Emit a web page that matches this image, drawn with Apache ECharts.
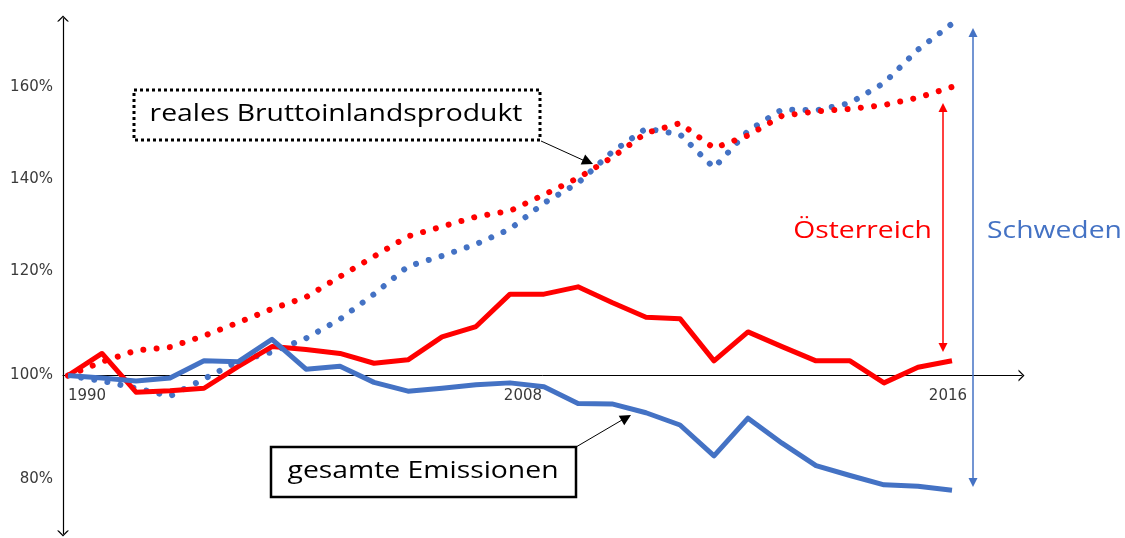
<!DOCTYPE html>
<html>
<head>
<meta charset="utf-8">
<title>Emissionen und BIP</title>
<script src="https://cdn.jsdelivr.net/npm/echarts@6/dist/echarts.min.js"></script>
<style>
    html, body { margin: 0; padding: 0; background: #fff; }
    #chart { width: 1125px; height: 538px; }
</style>
</head>
<body>
<div id="chart"></div>
<script>
// Jahre
var years = [1990, 1991, 1992, 1993, 1994, 1995, 1996, 1997, 1998, 1999, 2000, 2001, 2002, 2003,
    2004, 2005, 2006, 2007, 2008, 2009, 2010, 2011, 2012, 2013, 2014, 2015, 2016]

// gesamte Emissionen (1990 = 100%)
var emiAT = [100, 104.5, 96.6, 96.9, 97.4, 101.8, 105.9, 105.3, 104.5, 102.5, 103.2, 107.9, 110.0, 116.6,
    116.6, 118.1, 114.9, 111.9, 111.6, 103.0, 108.9, 105.9, 103.0, 103.0, 98.5, 101.7, 103.0]
var emiSE = [100, 99.5, 98.9, 99.5, 103.0, 102.8, 107.4, 101.3, 101.9, 98.6, 96.8, 97.4, 98.1, 98.5,
    97.7, 94.3, 94.2, 92.4, 89.9, 83.6, 91.3, 86.2, 81.6, 79.6, 77.7, 77.4, 76.6]

// reales Bruttoinlandsprodukt (1990 = 100%)
var bipAT = [100, 102.8, 105.1, 105.8, 108.1, 110.8, 113.6, 116.0, 120.2, 124.3, 128.4, 130.4, 132.4, 133.6,
    136.9, 140.3, 144.5, 149.5, 151.5, 146.4, 149.0, 153.0, 153.9, 154.4, 155.2, 156.7, 158.9]
var bipSE = [100, 98.9, 97.4, 95.8, 99.3, 102.9, 104.8, 107.6, 111.5, 116.6, 122.3, 124.4, 126.8, 129.9,
    135.2, 139.3, 145.6, 150.4, 149.2, 142.4, 149.9, 154.3, 154.1, 155.6, 159.7, 166.5, 171.8]

// Achsenbeschriftung
var yTickLabels = ['80%', '100%', '120%', '140%', '160%']
var yTickAt = [78.9, 100, 121.3, 140.1, 158.9] // wo die Beschriftungen im Bild stehen
var xTickLabels = ['1990', '2008', '2016']
var xTickAt = [1990.56, 2003.38, 2015.88] // wo die Beschriftungen im Bild stehen

;(function () {
    var RED = '#ff0000',
        BLUE = '#4472c4',
        FONT = '"Open Sans", "Noto Sans", sans-serif',
        AXISFONT = '"DejaVu Sans", sans-serif',
        CHEVRON = 'path://M0,10 L10,0 L20,10 L17,10 L10,3 L3,10 Z',
        STRETCH = 1.18 // das Bild ist waagrecht gedehnt

    var yMin = 67.76,
        yMax = 172.86,
        xMin = 1990 - 5 / 34,
        xMax = 1990 - 5 / 34 + 958.5 / 34,
        baseY = 375.5 // Lage der 100%-Linie

    function pairs(vals) { // [Jahr, Wert]
        return years.map(function (y, i) { return [y, vals[i]] })
    }

    function pick(at, texts) { // Beschriftung zum Wert
        return function (v) {
            for (var i = 0; i < at.length; i++) {
                if (Math.abs(at[i] - v) < 1e-6) return texts[i]
            }
            return ''
        }
    }

    function lineSeries(name, vals, color, dotted) {
        return {
            name: name,
            type: 'line',
            data: pairs(vals),
            showSymbol: false,
            symbol: 'none',
            z: dotted ? 2 : 3,
            lineStyle: dotted
                ? { color: color, width: 6, type: [0.01, 13.3], cap: 'round' }
                : { color: color, width: 5, join: 'round' },
        }
    }

    function head(tx, ty, fx, fy, len, half, color) { // Pfeilspitze bei (tx, ty)
        var dx = tx - fx,
            dy = ty - fy,
            d = Math.sqrt(dx * dx + dy * dy),
            ux = dx / d,
            uy = dy / d,
            bx = tx - ux * len,
            by = ty - uy * len
        return {
            type: 'polygon',
            shape: { points: [[tx, ty], [bx - uy * half, by + ux * half], [bx + uy * half, by - ux * half]] },
            style: { fill: color },
            z: 10,
        }
    }

    function seg(x1, y1, x2, y2, w, color) {
        return { type: 'line', shape: { x1: x1, y1: y1, x2: x2, y2: y2 }, style: { stroke: color, lineWidth: w }, z: 10 }
    }

    function label(text, x, y, color, size) {
        return {
            type: 'text',
            x: x,
            y: y,
            scaleX: STRETCH,
            z: 11,
            style: { text: text, fill: color, font: size + 'px ' + FONT, align: 'center', verticalAlign: 'middle' },
        }
    }

    var graphics = [
        // Kasten BIP
        { type: 'rect', shape: { x: 134, y: 90, width: 406, height: 50 }, style: { fill: '#fff', stroke: '#000', lineWidth: 3, lineDash: [3, 3] }, z: 10 },
        label('reales Bruttoinlandsprodukt', 336, 114, '#000', 24),
        seg(541, 141, 585, 161, 1, '#000'),
        head(593, 164, 541, 141, 11, 5.5, '#000'),
        // Kasten Emissionen
        { type: 'rect', shape: { x: 271, y: 447, width: 305, height: 50 }, style: { fill: '#fff', stroke: '#000', lineWidth: 2.5 }, z: 10 },
        label('gesamte Emissionen', 423, 471, '#000', 24),
        seg(576, 447, 622, 420, 1, '#000'),
        head(631, 415, 576, 447, 11, 5.5, '#000'),
        // Österreich
        seg(943, 110, 943, 345, 1.5, RED),
        head(943, 103, 943, 352, 9, 4.5, RED),
        head(943, 352, 943, 103, 9, 4.5, RED),
        label('Österreich', 862.5, 231, RED, 24),
        // Schweden
        seg(973, 35, 973, 480, 1.5, BLUE),
        head(973, 28, 973, 487, 9, 4.5, BLUE),
        head(973, 487, 973, 28, 9, 4.5, BLUE),
        label('Schweden', 1054.5, 231, BLUE, 24),
    ]

    var chart = echarts.init(document.getElementById('chart'))
    var option = {
        animation: false,
        backgroundColor: '#fff',
        grid: [
            { left: 63, right: 103.5, top: 18.5, bottom: 4.5, outerBoundsMode: 'none' },
            // zweites Raster nur für die x-Achse auf der 100%-Linie
            { left: 63, right: 103.5, top: 18.5, bottom: 538 - baseY, outerBoundsMode: 'none' },
        ],
        xAxis: [
            {
                type: 'value',
                gridIndex: 0,
                min: xMin,
                max: xMax,
                show: false,
            },
            {
                type: 'value',
                gridIndex: 1,
                min: xMin,
                max: xMax,
                splitLine: { show: false },
                axisTick: { show: false },
                axisLine: {
                    onZero: false,
                    lineStyle: { color: '#000', width: 1 },
                    symbol: ['none', CHEVRON],
                    symbolSize: [12, 9],
                },
                axisLabel: {
                    customValues: xTickAt,
                    margin: 13,
                    color: '#3a3a3a',
                    fontSize: 15,
                    fontFamily: AXISFONT,
                    formatter: pick(xTickAt, xTickLabels),
                },
            },
        ],
        yAxis: [
            {
                type: 'value',
                gridIndex: 0,
                min: yMin,
                max: yMax,
                splitLine: { show: false },
                axisTick: { show: false },
                axisLine: {
                    show: true,
                    onZero: false,
                    lineStyle: { color: '#000', width: 1.2 },
                    symbol: [CHEVRON, CHEVRON],
                    symbolSize: [12, 9],
                },
                axisLabel: {
                    customValues: yTickAt,
                    margin: 10,
                    color: '#3a3a3a',
                    fontSize: 15,
                    fontFamily: AXISFONT,
                    formatter: pick(yTickAt, yTickLabels),
                },
            },
            {
                type: 'value',
                gridIndex: 1,
                show: false,
            },
        ],
        series: [
            lineSeries('BIP Schweden', bipSE, BLUE, true),
            lineSeries('BIP Österreich', bipAT, RED, true),
            lineSeries('Emissionen Österreich', emiAT, RED, false),
            lineSeries('Emissionen Schweden', emiSE, BLUE, false),
        ],
        graphic: graphics,
    }
    chart.setOption(option)
}())
</script>
</body>
</html>
